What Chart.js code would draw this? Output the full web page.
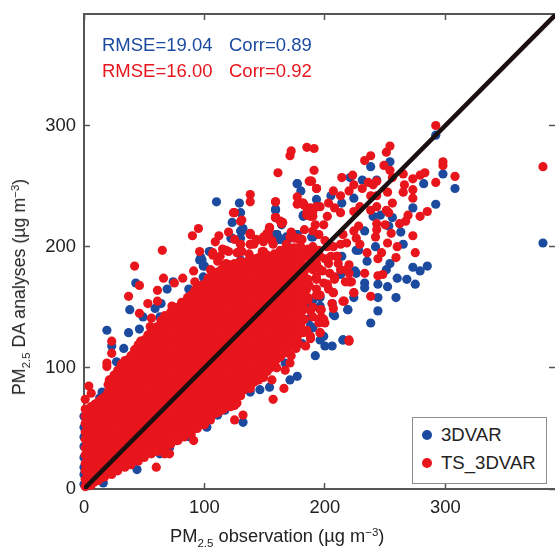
<!DOCTYPE html>
<html>
<head>
<meta charset="utf-8">
<title>PM2.5 scatter</title>
<script src="https://cdn.jsdelivr.net/npm/chart.js@4/dist/chart.umd.min.js"></script>
<style>
  html, body { margin: 0; padding: 0; background: #fff; overflow: hidden; }
  #wrap { position: relative; width: 555px; height: 549px; font-family: "Liberation Sans", Arial, sans-serif; color: #222; }
  canvas { position: absolute; left: 0; top: 0; }
  .txt { position: absolute; white-space: nowrap; line-height: 22px; }
  .stat { font-size: 18.5px; }
  .axt { font-size: 18.3px; }
  .axt .lo { font-size: 11.5px; position: relative; top: 5px; }
  .axt .hi { font-size: 11.5px; position: relative; top: -6px; }
  #ylab { left: 20px; top: 287px; font-size: 17.8px; transform: translate(-50%, -50%) rotate(-90deg); }
  #legend { position: absolute; left: 412px; top: 417px; width: 133px; height: 65px; background: #fff; border: 1px solid #8c8c8c; font-size: 18.6px; }
  #legend i { position: absolute; left: 9px; width: 10px; height: 10px; border-radius: 50%; }
  #legend span { position: absolute; left: 28px; line-height: 22px; }
</style>
</head>
<body>
<div id="wrap">
  <canvas id="plot" width="555" height="549"></canvas>
  <div class="txt stat" id="s1" style="left:102px;top:34px"></div>
  <div class="txt stat" id="s2" style="left:229px;top:34px"></div>
  <div class="txt stat" id="s3" style="left:102px;top:60px"></div>
  <div class="txt stat" id="s4" style="left:229px;top:60px"></div>
  <div class="txt axt" style="left:170px;top:525px">PM<span class="lo">2.5</span> observation (µg m<span class="hi">−3</span>)</div>
  <div class="txt axt" id="ylab">PM<span class="lo">2.5</span> DA analyses (µg m<span class="hi">−3</span>)</div>
  <div id="legend"></div>
</div>
<script>
const seriesNames = ['3DVAR', 'TS_3DVAR'];
const blueStats = ['RMSE=19.04', 'Corr=0.89'];
const redStats = ['RMSE=16.00', 'Corr=0.92'];
const xTicks = [0, 100, 200, 300];
const yTicks = [0, 100, 200, 300];
const BLUE = '#1b4a9f';
const RED = '#e8151d';

// isolated blue points
const blueUpper = [[381,203],[292,292],[254,270],[238,266],[298,260],[282,252],[308,248],[292,235],[273,232],
  [177,252],[180,246],[231,255],[221,257],[243,255],[224,240],[193,239],[205,242],[214,236],[159,231],[164,219],
  [182,226],[256,224],[240,225],[246,226],[253,217],[263,212],[233,213],[265,202],[242,200],[226,197],[160,210],
  [170,208],[214,192],[110,237],[129,236],[130,228],[123,220],[132,215],[130,213],[123,207],[130,207],[177,252],
  [159,230],[182,225],[164,218],[160,210],[162,206],[168,208],[177,210],[105,196],[97,191],[122,207],[131,213],
  [160,210],[153,185],[19,131],[37,129],[46,132],[38,148],[43,170],[59,149],[64,153],[69,165],[74,171],[87,165],
  [99,175],[99,184],[96,189],[49,142],[63,142],[33,116],[23,118],[27,105],[13,75],[15,80],[26,86],[30,84],[21,87]];
const blueLower = [[235,188],[254,186],[251,181],[285,184],[279,180],[273,183],[260,174],[268,173],[275,169],
  [252,167],[244,169],[233,170],[233,166],[226,178],[244,158],[259,158],[224,158],[244,147],[219,148],[238,137],
  [208,143],[215,123],[190,133],[199,126],[186,140],[184,153],[196,151],[44,16],[16,5],[63,29],[71,34],[88,43],
  [102,51],[111,61],[117,65],[132,55],[138,80],[146,82],[154,84],[171,90],[177,93],[160,113],[167,104],[181,120],
  [188,134],[200,118],[192,110]];
const blueLeftEdge = [[0,4],[0,12],[0,18],[0,26],[0,35],[0,43],[0,51],[0,60]];
const blueMid = [[219,148],[207,144],[206,153],[196,158],[213,177],[225,180],[228,197],[206,118],[196,123],[215,123],
  [188,134],[171,155],[190,156],[160,210],[190,208],[171,207],[104,196],[98,189],[100,184],[111,177],[163,206],
  [170,208],[189,208],[177,210],[130,189]];

// isolated red points
const redUpper = [[381,266],[292,300],[254,283],[251,278],[238,275],[233,271],[249,267],[298,270],[298,267],[308,258],
  [292,253],[283,261],[279,259],[273,256],[265,260],[266,251],[273,247],[265,245],[273,240],[252,245],[256,236],
  [254,263],[256,257],[285,229],[279,225],[269,226],[267,221],[262,219],[273,209],[275,195],[255,211],[252,203],
  [260,200],[259,191],[247,195],[244,190],[185,282],[191,281],[171,275],[172,279],[161,261],[191,263],[214,257],
  [223,259],[188,254],[193,248],[159,237],[177,241],[207,246],[213,242],[224,251],[231,248],[220,246],[236,253],
  [243,254],[240,251],[243,242],[238,242],[181,236],[188,232],[196,233],[203,236],[208,232],[213,228],[185,226],
  [190,225],[202,225],[192,218],[199,218],[190,213],[195,210],[175,207],[181,206],[224,229],[229,233],[238,230],
  [243,233],[251,230],[253,228],[243,219],[243,214],[242,208],[250,218],[228,217],[224,213],[226,207],[229,202],
  [218,203],[213,202],[207,200],[202,200],[190,200],[189,195],[235,195],[210,192],[183,234],[159,224],[165,220],
  [138,243],[138,237],[125,228],[130,221],[95,215],[90,209],[112,209],[109,204],[120,212],[154,216],[152,211],
  [138,210],[149,208],[143,205],[138,202],[130,202],[174,208],[180,206],[96,196],[148,196],[187,254],[177,235],
  [42,184],[46,168],[37,159],[65,197],[66,174],[61,164],[61,155],[53,153],[46,145],[56,141],[55,134],[73,151],
  [82,174],[75,170],[91,180],[92,171],[96,167],[124,228],[131,222],[138,210],[159,237],[159,224],[164,220],
  [154,215],[149,204],[130,202],[141,202],[107,193],[113,192],[118,197],[127,195],[131,196],[149,195],[163,197],
  [171,195],[177,199],[157,192],[146,189],[118,186],[105,181],[168,202],[186,198],[195,197],[137,194],[172,212],
  [183,214],[200,205],[215,210],[125,206],[156,205],[115,198],[4,85],[1,74],[6,79],[21,90],[19,101],[19,104],
  [23,112],[23,122]];
const redLower = [[233,178],[244,176],[248,177],[224,162],[238,159],[216,155],[220,185],[220,178],[220,171],[222,171],
  [211,186],[207,162],[206,153],[207,149],[197,148],[197,142],[200,137],[196,129],[188,147],[181,147],[179,137],
  [182,129],[188,126],[220,123],[196,160],[186,158],[199,170],[204,178],[208,175],[190,181],[188,189],[193,173],
  [185,165],[190,150],[200,190],[195,182],[184,174],[184,184],[193,165],[203,165],[178,120],[184,118],
  [125,57],[132,61],[157,74],[166,83],[167,98],[171,104],[60,18],[67,29],[71,29],[77,40],[91,40],[125,69],[145,90],
  [148,93],[160,100],[172,110],[176,116],[156,90],[138,83]];
const redMid = [[188,195],[196,192],[203,186],[210,192],[213,181],[208,173],[202,169],[193,175],[186,173],[193,186],
  [218,181],[221,171],[217,171],[207,162],[215,155],[224,162],[186,156],[193,160],[196,148],[199,140],[190,142],
  [195,137],[179,137],[185,131],[188,124],[196,129],[220,122],[179,145],[182,151],[171,208],[178,207],[163,221],
  [157,202],[107,195],[111,188],[120,196],[130,197],[138,202],[145,191],[149,196],[117,185],[106,180],[138,211],
  [143,206],[149,207],[154,215],[153,210],[172,208],[179,206],[185,228],[190,229],[178,236],[182,236],[188,225],
  [193,233],[189,254],[193,248],[164,219],[159,224],[183,140],[183,160],[183,180],[183,192],[187,168],[187,184],
  [190,193],[198,180],[205,192]];

// solid red band, scanned column by column: obs value then analyses values
const redBand = [
  [1, [2,8,15,21,28,34,41,47,54,60,66]],
  [3, [5,12,18,25,31,38,44,51,57,64]],
  [6, [3,10,16,23,29,36,42,49,55,62,68]],
  [9, [6,12,19,25,32,38,45,51,58,64,70]],
  [12, [7,13,20,26,33,39,46,52,59,65,72]],
  [14, [9,16,22,29,35,42,48,55,61,68,74]],
  [17, [10,17,23,30,36,43,49,56,62,69,76]],
  [20, [13,20,26,33,39,46,52,59,65,72,80,86]],
  [23, [12,19,25,32,38,45,51,58,64,71,77,84,90]],
  [25, [16,22,29,35,42,48,55,61,68,74,81,88,94]],
  [28, [15,21,28,34,41,47,54,60,67,73,80,86,93,98]],
  [31, [20,27,33,40,46,53,59,66,72,79,85,92,98,103]],
  [34, [18,24,31,37,44,50,57,63,70,76,83,89,96,102,106]],
  [37, [22,29,35,42,48,55,61,68,74,81,87,94,100,107]],
  [39, [20,27,33,40,46,53,59,66,72,79,85,92,98,105,110]],
  [42, [24,31,37,44,50,57,63,70,76,83,89,96,102,109,115]],
  [45, [23,30,36,43,49,56,62,69,75,82,88,95,101,108,114,119]],
  [47, [27,34,40,47,53,60,66,73,79,86,92,99,105,112,118,122]],
  [50, [26,32,39,45,52,58,65,71,78,84,91,97,104,110,117,123]],
  [53, [30,36,43,49,56,62,69,75,82,88,95,101,108,114,121,127]],
  [56, [29,36,42,49,55,62,68,75,81,88,94,101,107,114,120,127,131]],
  [58, [33,39,46,52,59,65,72,78,85,91,98,104,111,117,124,130]],
  [61, [31,38,44,51,57,64,70,77,83,90,96,103,109,116,122,129,134]],
  [64, [36,42,49,55,62,68,75,81,88,94,101,107,114,120,127,133,139]],
  [67, [34,41,47,54,60,67,73,80,86,93,99,106,112,119,125,132,138,143]],
  [70, [39,45,52,58,65,71,78,84,91,97,104,110,117,123,130,136,142]],
  [72, [37,43,50,56,63,69,76,82,89,95,102,108,115,121,128,134,141,146]],
  [75, [41,48,54,61,67,74,80,87,93,100,106,113,119,126,132,139,145,150]],
  [78, [40,47,53,60,66,73,79,86,92,99,105,112,118,125,131,138,144,150]],
  [81, [45,51,58,64,71,77,84,90,97,103,110,116,123,129,136,142,149,154]],
  [83, [43,50,56,63,69,76,82,89,95,102,108,115,121,128,134,141,147,153]],
  [86, [47,54,60,67,73,80,86,93,99,106,112,119,125,132,138,145,151,158]],
  [89, [45,52,58,65,71,78,84,91,97,104,110,117,123,130,136,143,149,156,160]],
  [92, [50,57,63,70,76,83,89,96,102,109,115,122,128,135,141,148,154,161,164]],
  [94, [50,56,63,69,76,82,89,95,102,108,115,121,128,134,141,147,154,160,165]],
  [97, [53,59,66,72,79,85,92,98,105,111,118,124,131,137,144,150,157,163,168]],
  [100, [53,60,66,73,79,86,92,99,105,112,118,125,131,138,144,151,157,164,169]],
  [103, [58,64,71,77,84,90,97,103,110,116,123,129,136,142,149,155,162,168,174]],
  [105, [57,63,70,76,83,89,96,102,109,115,122,128,135,141,148,154,161,167,174]],
  [108, [62,68,75,81,88,94,101,107,114,120,127,133,140,146,153,159,166,172,178]],
  [111, [63,69,76,82,89,95,102,108,115,121,128,134,141,147,154,160,167,173,179]],
  [114, [65,71,78,84,91,97,104,110,117,123,130,136,143,149,156,162,169,175,181]],
  [116, [66,72,79,85,92,98,105,111,118,124,131,137,144,150,157,163,170,176,181]],
  [119, [68,74,81,87,94,100,107,113,120,126,133,139,146,152,159,165,172,178,184]],
  [122, [68,75,81,88,94,101,107,114,120,127,133,140,146,153,159,166,172,179,185]],
  [125, [72,78,85,91,98,104,111,117,124,130,137,143,150,156,163,169,176,182,186]],
  [127, [71,78,84,91,97,104,110,117,123,130,136,143,149,156,162,169,175,182,186]],
  [130, [77,85,91,98,104,111,117,124,130,137,143,150,156,163,169,176,182,188]],
  [133, [82,88,95,101,108,114,121,127,134,140,147,153,160,166,173,179,186]],
  [136, [84,91,97,104,110,117,123,130,136,143,149,156,162,169,175,182,188]],
  [138, [85,91,98,104,111,117,124,130,137,143,150,156,163,169,176,182,188]],
  [141, [88,94,101,107,114,120,127,133,140,146,153,159,166,172,179,185,190]],
  [144, [90,96,103,109,116,122,129,135,142,148,155,161,168,174,181,187]],
  [147, [92,98,105,111,118,124,131,137,144,150,157,163,170,176,183,189]],
  [149, [92,99,105,112,118,125,131,138,144,151,157,164,170,177,183,189]],
  [152, [97,103,110,116,123,129,136,142,149,155,162,168,175,181,188,193]],
  [155, [100,106,113,119,126,132,139,145,152,158,165,171,178,184,191]],
  [158, [104,110,117,123,130,136,143,149,156,162,169,175,182,188,194]],
  [160, [107,114,120,127,133,140,146,153,159,166,172,179,185,192]],
  [163, [109,116,122,129,135,142,148,155,161,168,174,181,187,194]],
  [166, [112,118,125,131,138,144,151,157,164,170,177,183,190,197]],
  [169, [115,122,128,135,141,148,154,161,167,174,180,187,193,198]],
  [171, [118,125,131,138,144,151,157,164,170,177,183,190,196]],
  [174, [121,128,134,141,147,154,160,167,173,180,186,193,199]],
  [177, [125,131,138,144,151,157,164,170,177,183,190,197]],
  [180, [130,136,143,149,156,162,169,175,182,188,195,200]]
];

function toPoints(pairs) {
  return pairs.map(p => ({ x: p[0], y: p[1] }));
}

const bandPoints = [];
redBand.forEach(col => {
  col[1].forEach(v => bandPoints.push({ x: col[0], y: v }));
});

function noPad(s) {
  s.paddingTop = 0; s.paddingBottom = 0; s.paddingLeft = 0; s.paddingRight = 0;
}

const ctx = document.getElementById('plot').getContext('2d');
new Chart(ctx, {
  type: 'scatter',
  data: {
    datasets: [
      {
        type: 'line', label: '1:1', data: [{ x: 0, y: 0 }, { x: 392, y: 392 }],
        borderColor: '#1c0f0f', borderWidth: 4.5, pointRadius: 0, order: 0
      },
      {
        label: seriesNames[1], data: toPoints(redUpper).concat(toPoints(redLower), toPoints(redMid), bandPoints),
        backgroundColor: RED, pointRadius: 4.6, pointBorderWidth: 0, clip: false, order: 1
      },
      {
        label: seriesNames[0], data: toPoints(blueUpper).concat(toPoints(blueLower), toPoints(blueLeftEdge), toPoints(blueMid)),
        backgroundColor: BLUE, pointRadius: 4.6, pointBorderWidth: 0, clip: false, order: 2
      }
    ]
  },
  options: {
    responsive: false,
    animation: false,
    layout: { padding: { top: 14, right: 0, left: 0, bottom: 0 }, autoPadding: false },
    plugins: { legend: { display: false }, tooltip: { enabled: false } },
    scales: {
      x: {
        type: 'linear', min: 0, max: 391, position: 'bottom',
        afterBuildTicks: s => { s.ticks = xTicks.map(v => ({ value: v })); },
        afterFit: s => { s.height = 60; noPad(s); },
        border: { color: '#555', width: 2 },
        grid: { drawOnChartArea: false, tickLength: -6, color: '#555', tickWidth: 1.5 },
        ticks: { padding: 14, maxRotation: 0, color: '#222', font: { family: '"Liberation Sans"', size: 18.4 } }
      },
      y: {
        type: 'linear', min: 0, max: 392, position: 'left',
        afterBuildTicks: s => { s.ticks = yTicks.map(v => ({ value: v })); },
        afterFit: s => { s.width = 84; noPad(s); },
        border: { color: '#555', width: 2 },
        grid: { drawOnChartArea: false, tickLength: -6, color: '#555', tickWidth: 1.5 },
        ticks: { padding: 14, color: '#222', font: { family: '"Liberation Sans"', size: 18.4 } }
      },
      x2: {
        type: 'linear', min: 0, max: 391, position: 'top',
        afterBuildTicks: s => { s.ticks = xTicks.map(v => ({ value: v })); },
        afterFit: s => { s.height = 0; noPad(s); },
        border: { color: '#555', width: 2 },
        grid: { drawOnChartArea: false, tickLength: -6, color: '#555', tickWidth: 1.5 },
        ticks: { display: false }
      },
      y2: {
        type: 'linear', min: 0, max: 392, position: 'right',
        afterBuildTicks: s => { s.ticks = yTicks.map(v => ({ value: v })); },
        afterFit: s => { s.width = 0; noPad(s); },
        border: { color: '#c4c4c4', width: 1 },
        grid: { drawOnChartArea: false, tickLength: -6, color: '#555', tickWidth: 1.5 },
        ticks: { display: false }
      }
    }
  }
});

// stats text and legend
const s = [['s1', blueStats[0], BLUE], ['s2', blueStats[1], BLUE], ['s3', redStats[0], RED], ['s4', redStats[1], RED]];
s.forEach(r => {
  const el = document.getElementById(r[0]);
  el.textContent = r[1];
  el.style.color = r[2];
});
document.getElementById('legend').innerHTML =
  `<i style="top:12px;background:${BLUE}"></i><span style="top:6px">` + seriesNames[0] + `</span>` +
  `<i style="top:40px;background:${RED}"></i><span style="top:34px">` + seriesNames[1] + `</span>`;
</script>
</body>
</html>
